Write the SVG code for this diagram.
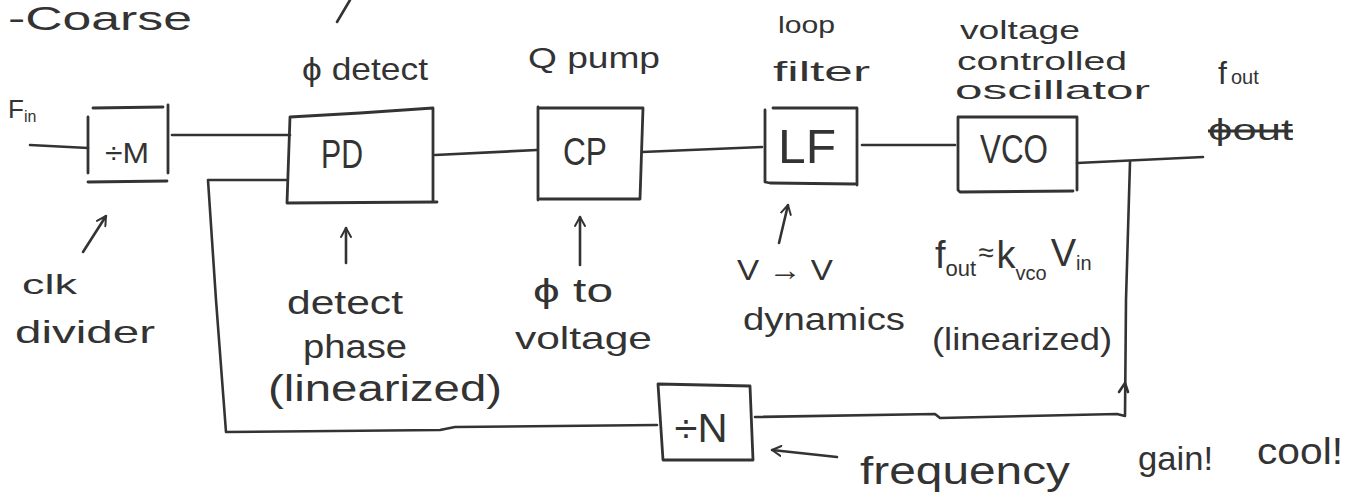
<svg xmlns="http://www.w3.org/2000/svg" width="1346" height="502" viewBox="0 0 1346 502">
<style>
.ln{fill:none;stroke:#333;stroke-width:2.6;stroke-linecap:round;stroke-linejoin:round}
.bx{fill:none;stroke:#333;stroke-width:2.8;stroke-linejoin:round;stroke-linecap:round}
text{font-family:"Liberation Sans","DejaVu Sans",sans-serif;fill:#333}
.lbl{font-size:32px}
.in{font-size:38px;text-anchor:middle}
.ar{fill:none;stroke:#333;stroke-width:2.6;stroke-linecap:round;stroke-linejoin:round}
</style>
<defs>
<marker id="open" viewBox="0 0 12 12" refX="10" refY="6" markerWidth="12" markerHeight="12" markerUnits="userSpaceOnUse" orient="auto">
<path d="M1,1 L10,6 L1,11" fill="none" stroke="#333" stroke-width="2" stroke-linecap="round" stroke-linejoin="round"/>
</marker>
</defs>
<rect width="1346" height="502" fill="#ffffff"/>

<g id="title">
<text x="8" y="30" style="font-size:34px" textLength="184" lengthAdjust="spacingAndGlyphs">-Coarse</text>
<path class="ln" d="M337,22 L350,0"/>
</g>

<g id="connectors">
<path class="ln" d="M30,145 L88,148"/>
<path class="ln" d="M172,135 L290,135"/>
<path class="ln" d="M287,180 L208,180 L216,300 L226,432 L440,430 L455,427 L657,425"/>
<path class="ln" d="M755,417 L935,414 L940,418 L1117,414 L1125,416 L1126,300 L1130,162"/>
<path class="ln" d="M1119,392 L1125,383 L1128,392"/>
<path class="ln" d="M435,155 L537,150"/>
<path class="ln" d="M642,152 L762,147"/>
<path class="ln" d="M862,145 L955,145"/>
<path class="ln" d="M1077,163 L1203,157"/>
</g>

<g id="node-divM">
<path class="bx" d="M93,108 L163,107 M168,105 L168,173 M88,117 L88,173 M88,182 L167,181"/>
<text x="127" y="163" class="in" style="font-size:30px" textLength="44" lengthAdjust="spacingAndGlyphs">÷M</text>
</g>

<g id="node-PD">
<path class="bx" d="M290,117 L360,113 L433,108 L433,200 M290,117 L287,203 L437,202"/>
<text x="342" y="168" class="in" style="font-size:40px" textLength="42" lengthAdjust="spacingAndGlyphs">PD</text>
<text x="302" y="80" class="lbl" textLength="126" lengthAdjust="spacingAndGlyphs">ϕ detect</text>
</g>

<g id="node-CP">
<path class="bx" d="M538,107 L538,200 M538,108 L643,108 L640,199 L540,199"/>
<text x="585" y="165" class="in" textLength="44" lengthAdjust="spacingAndGlyphs">CP</text>
<text x="528" y="68" class="lbl" style="font-size:30px" textLength="132" lengthAdjust="spacingAndGlyphs">Q pump</text>
</g>

<g id="node-LF">
<path class="bx" d="M773,108 L857,108 L857,185 M765,110 L765,182 L770,183 L855,184"/>
<text x="807" y="163" class="in" style="font-size:48px" textLength="58" lengthAdjust="spacingAndGlyphs">LF</text>
<text x="778" y="33" style="font-size:24px" textLength="57" lengthAdjust="spacingAndGlyphs">loop</text>
<text x="773" y="81" style="font-size:28px" textLength="97" lengthAdjust="spacingAndGlyphs">filter</text>
</g>

<g id="node-VCO">
<path class="bx" d="M958,117 L1077,117 L1077,190 M958,117 L958,190 L960,192 L1073,191"/>
<text x="1014" y="163" class="in" style="font-size:40px" textLength="68" lengthAdjust="spacingAndGlyphs">VCO</text>
<text x="960" y="39" style="font-size:26px" textLength="120" lengthAdjust="spacingAndGlyphs">voltage</text>
<text x="957" y="70" style="font-size:26px" textLength="170" lengthAdjust="spacingAndGlyphs">controlled</text>
<text x="955" y="99" style="font-size:26px" textLength="195" lengthAdjust="spacingAndGlyphs">oscillator</text>
</g>

<g id="node-divN">
<path class="bx" d="M658,384 L750,386 L753,460 L663,460 Z"/>
<text x="701" y="442" class="in" style="font-size:40px" textLength="53" lengthAdjust="spacingAndGlyphs">÷N</text>
</g>

<g id="labels">
<text x="8" y="118" style="font-size:26px">F<tspan style="font-size:16px" dy="4">in</tspan></text>
<text x="1218" y="84" style="font-size:32px">f<tspan style="font-size:20px" dx="4">out</tspan></text>
<text x="1208" y="140" style="font-size:30px;text-decoration:line-through" textLength="85" lengthAdjust="spacingAndGlyphs">ϕout</text>

<text x="22" y="294" style="font-size:28px" textLength="55" lengthAdjust="spacingAndGlyphs">clk</text>
<text x="15" y="343" style="font-size:32px" textLength="140" lengthAdjust="spacingAndGlyphs">divider</text>

<text x="287" y="314" style="font-size:34px" textLength="116" lengthAdjust="spacingAndGlyphs">detect</text>
<text x="303" y="358" style="font-size:34px" textLength="104" lengthAdjust="spacingAndGlyphs">phase</text>
<text x="268" y="401" style="font-size:36px" textLength="234" lengthAdjust="spacingAndGlyphs">(linearized)</text>

<text x="533" y="302" style="font-size:34px" textLength="80" lengthAdjust="spacingAndGlyphs">ϕ to</text>
<text x="515" y="349" style="font-size:32px" textLength="137" lengthAdjust="spacingAndGlyphs">voltage</text>

<text x="737" y="280" style="font-size:30px" textLength="96" lengthAdjust="spacingAndGlyphs">V → V</text>
<text x="743" y="330" style="font-size:32px" textLength="162" lengthAdjust="spacingAndGlyphs">dynamics</text>

<text x="935" y="268" style="font-size:38px">f<tspan style="font-size:22px" dy="8">out</tspan><tspan style="font-size:28px" dy="-14" dx="2">≈</tspan><tspan style="font-size:38px" dy="6" dx="3">k</tspan><tspan style="font-size:20px" dy="12">vco</tspan><tspan style="font-size:38px" dy="-14" dx="4">V</tspan><tspan style="font-size:20px" dy="4">in</tspan></text>
<text x="932" y="350" style="font-size:32px" textLength="180" lengthAdjust="spacingAndGlyphs">(linearized)</text>

<text x="860" y="484" style="font-size:38px" textLength="210" lengthAdjust="spacingAndGlyphs">frequency</text>
<text x="1138" y="470" style="font-size:34px" textLength="75" lengthAdjust="spacingAndGlyphs">gain!</text>
<text x="1257" y="464" style="font-size:36px" textLength="86" lengthAdjust="spacingAndGlyphs">cool!</text>
</g>

<g id="annotation-arrows">
<path class="ar" d="M83,252 L106,216" marker-end="url(#open)"/>
<path class="ar" d="M346,263 L346,228" marker-end="url(#open)"/>
<path class="ar" d="M580,265 L580,217" marker-end="url(#open)"/>
<path class="ar" d="M779,243 L788,205" marker-end="url(#open)"/>
<path class="ar" d="M837,457 L772,450" marker-end="url(#open)"/>
</g>
</svg>
